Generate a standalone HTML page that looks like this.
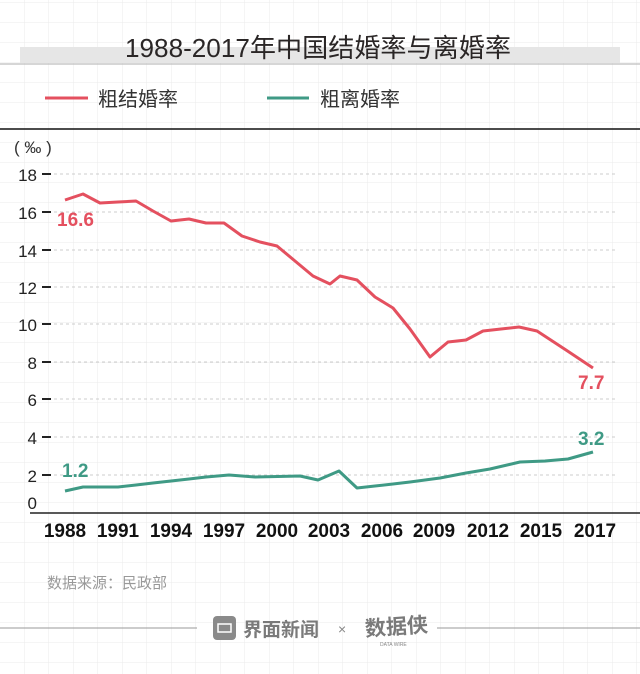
<!DOCTYPE html>
<html><head><meta charset="utf-8"><style>
html,body{margin:0;padding:0;background:#fff;}
svg{display:block;}
text{font-family:"Liberation Sans","Noto Sans CJK SC",sans-serif;}
.yl{font-family:"Liberation Sans Narrow","Liberation Sans",sans-serif;font-size:17px;fill:#222;}
.xl{font-family:"Liberation Sans Narrow","Liberation Sans",sans-serif;font-weight:bold;font-size:19px;fill:#111;}
</style></head><body>
<svg width="640" height="674" viewBox="0 0 640 674" xmlns="http://www.w3.org/2000/svg">
<defs>
<pattern id="g" width="24.5" height="20" patternUnits="userSpaceOnUse" x="0" y="3">
<path d="M24.5 0V20M0 20H24.5" stroke="#ebebeb" stroke-width="1" fill="none"/>
</pattern>
</defs>
<rect width="640" height="674" fill="#fff"/>
<rect width="640" height="674" fill="url(#g)"/>
<rect x="20" y="47" width="600" height="16" fill="#e6e6e6"/>
<line x1="0" y1="64" x2="640" y2="64" stroke="#bdbdbd" stroke-width="1.2"/>
<text x="318" y="57" text-anchor="middle" font-size="26" fill="#2a2626" textLength="386" lengthAdjust="spacingAndGlyphs">1988-2017年中国结婚率与离婚率</text>
<line x1="45" y1="98" x2="88" y2="98" stroke="#e4505f" stroke-width="3"/>
<text x="98" y="106" font-size="20" fill="#333">粗结婚率</text>
<line x1="267" y1="98" x2="309" y2="98" stroke="#3f9a85" stroke-width="3"/>
<text x="320" y="106" font-size="20" fill="#333">粗离婚率</text>
<line x1="0" y1="129" x2="640" y2="129" stroke="#111" stroke-width="1.5"/>
<text x="14" y="153" font-size="17" fill="#333">( ‰ )</text>
<g stroke="#ccc" stroke-dasharray="3,3" stroke-width="1">
<line x1="54" y1="174" x2="615" y2="174"/><line x1="54" y1="212" x2="615" y2="212"/>
<line x1="54" y1="250" x2="615" y2="250"/><line x1="54" y1="287" x2="615" y2="287"/>
<line x1="54" y1="324" x2="615" y2="324"/><line x1="54" y1="362" x2="615" y2="362"/>
<line x1="54" y1="399" x2="615" y2="399"/><line x1="54" y1="437" x2="615" y2="437"/>
<line x1="54" y1="475" x2="615" y2="475"/>
</g>
<g stroke="#222" stroke-width="2">
<line x1="42" y1="174" x2="51" y2="174"/><line x1="42" y1="212" x2="51" y2="212"/>
<line x1="42" y1="250" x2="51" y2="250"/><line x1="42" y1="287" x2="51" y2="287"/>
<line x1="42" y1="324" x2="51" y2="324"/><line x1="42" y1="362" x2="51" y2="362"/>
<line x1="42" y1="399" x2="51" y2="399"/><line x1="42" y1="437" x2="51" y2="437"/>
<line x1="42" y1="475" x2="51" y2="475"/>
</g>
<g class="yl" text-anchor="end">
<text x="37" y="181">18</text><text x="37" y="219">16</text><text x="37" y="257">14</text>
<text x="37" y="294">12</text><text x="37" y="331">10</text><text x="37" y="369">8</text>
<text x="37" y="406">6</text><text x="37" y="444">4</text><text x="37" y="482">2</text>
<text x="37" y="509">0</text>
</g>
<line x1="30" y1="513" x2="640" y2="513" stroke="#222" stroke-width="1.5"/>
<g class="xl" text-anchor="middle">
<text x="65" y="537">1988</text><text x="118" y="537">1991</text><text x="171" y="537">1994</text>
<text x="224" y="537">1997</text><text x="277" y="537">2000</text><text x="329" y="537">2003</text>
<text x="382" y="537">2006</text><text x="434" y="537">2009</text><text x="488" y="537">2012</text>
<text x="541" y="537">2015</text><text x="595" y="537">2017</text>
</g>
<polyline fill="none" stroke="#e4505f" stroke-width="3" stroke-linejoin="round" points="65,200 83,194 100,203 118,202 136,201 153,211 171,221 189,219 206,223 224,223 242,236 260,242 277,246 295,261 313,276 330,284 340,276 357,280 375,297 393,308 410,329 430,357 448,342 466,340 483,331 501,329 519,327 537,331 566,350 593,368"/>
<polyline fill="none" stroke="#3f9a85" stroke-width="3" stroke-linejoin="round" points="65,491 83,487 100,487 118,487 136,485 153,483 171,481 189,479 206,477 229,475 255,477 300,476 318,480 339,471 357,488 375,486 393,484 410,482 440,478 466,473 490,469 520,462 545,461 568,459 593,452"/>
<text x="57" y="226" font-size="19" font-weight="bold" fill="#e4505f">16.6</text>
<text x="578" y="389" font-size="19" font-weight="bold" fill="#e4505f">7.7</text>
<text x="62" y="477" font-size="19" font-weight="bold" fill="#3f9a85">1.2</text>
<text x="578" y="445" font-size="19" font-weight="bold" fill="#3f9a85">3.2</text>
<text x="47" y="588" font-size="15" fill="#999">数据来源：民政部</text>
<line x1="0" y1="628" x2="197" y2="628" stroke="#999" stroke-width="1"/>
<line x1="437" y1="628" x2="640" y2="628" stroke="#999" stroke-width="1"/>
<rect x="213" y="616" width="23" height="24" rx="4" fill="#8a8a8a"/>
<rect x="218" y="624" width="13" height="8" fill="none" stroke="#fff" stroke-width="1.5"/>
<text x="243" y="636" font-size="19" font-weight="bold" fill="#7a7a7a">界面新闻</text>
<text x="338" y="634" font-size="14" fill="#888">×</text>
<text x="365" y="634" font-size="21" font-weight="bold" fill="#7a7a7a" transform="rotate(-4 395 628)">数据侠</text>
<text x="380" y="646" font-size="5" fill="#888">DATA WIRE</text>
</svg>
</body></html>
